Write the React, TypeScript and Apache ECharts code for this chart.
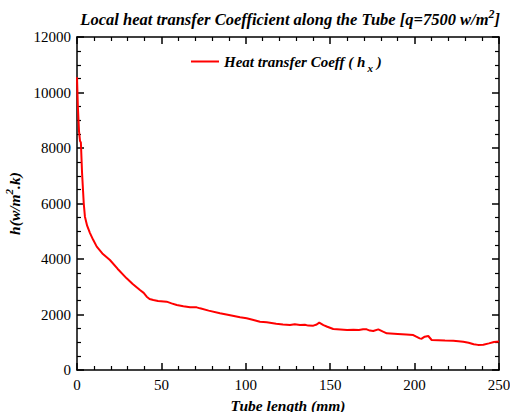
import React, { useEffect, useRef } from "react";
import * as echarts from "echarts";

const tubeLength = [0, 0.5, 1.2, 1.8, 2.3, 3, 4, 4.7, 6, 7.7, 9.5, 11.7, 15, 19.5, 24, 29.4, 33, 37.3, 39.5, 41.3, 43, 45.2, 48, 53.1, 56, 59.1, 63, 67, 70.9, 72.9, 78, 84.7, 90, 96.6, 100.5, 104, 108.4, 112.4, 118, 122, 126.2, 129, 132.1, 135, 137, 140, 142, 143.5, 146, 148.3, 151.8, 156, 160, 163.7, 167, 169.5, 171.6, 173.5, 175.5, 178.5, 181, 183.5, 190, 195, 199.2, 201, 203, 204.2, 206, 208.1, 210.1, 214, 218, 222.9, 226, 228.8, 232, 235, 237.5, 240.7, 244, 247, 250];
const heatCoeff = [10550, 9500, 8600, 8250, 8200, 7100, 6000, 5525, 5200, 4935, 4700, 4445, 4200, 3964, 3650, 3303, 3100, 2883, 2780, 2642, 2560, 2523, 2490, 2462, 2400, 2342, 2300, 2260, 2258, 2222, 2140, 2042, 1980, 1898, 1862, 1810, 1742, 1718, 1670, 1640, 1622, 1645, 1620, 1630, 1600, 1598, 1640, 1706, 1620, 1560, 1477, 1460, 1441, 1450, 1440, 1470, 1465, 1420, 1405, 1465, 1390, 1321, 1300, 1280, 1261, 1200, 1140, 1128, 1200, 1225, 1081, 1075, 1065, 1056, 1040, 1020, 980, 930, 905, 912, 960, 1010, 1030];

const xTicks = [0, 50, 100, 150, 200, 250];
const yTicks = [0, 2000, 4000, 6000, 8000, 10000, 12000];

export default function App() {
  const ref = useRef<HTMLDivElement>(null);
  useEffect(() => {
    if (!ref.current) return;
    const chart = echarts.init(ref.current, null, { renderer: "svg" });
    const font = "Liberation Serif";
    const xMin = xTicks[0];
    const xMax = xTicks[xTicks.length - 1];
    const yMin = yTicks[0];
    const yMax = yTicks[yTicks.length - 1];
    const mkLine = () => ({ show: true, onZero: false, lineStyle: { color: "#000", width: 1.5 } });
    const mkTick = () => ({ show: true, inside: true, length: 7, lineStyle: { color: "#000", width: 1.5 } });
    const mkMinor = (n: number) => ({ show: true, splitNumber: n, length: 4, lineStyle: { color: "#000", width: 1.2 } });
    const data = tubeLength.map((x, i) => [x, heatCoeff[i]]);

    const xBase = () => ({
      type: "value",
      min: xMin,
      max: xMax,
      interval: 50,
      axisLine: mkLine(),
      axisTick: mkTick(),
      minorTick: mkMinor(5),
      splitLine: { show: false },
      minorSplitLine: { show: false },
    });
    const yBase = () => ({
      type: "value",
      min: yMin,
      max: yMax,
      interval: 2000,
      axisLine: mkLine(),
      axisTick: mkTick(),
      minorTick: mkMinor(4),
      splitLine: { show: false },
      minorSplitLine: { show: false },
    });
    chart.setOption({
      animation: false,
      backgroundColor: "#fff",
      title: {
        text: "{t|Local heat transfer Coefficient along the Tube [q=7500 w/m}{s|2}{t|]}",
        right: 5,
        top: 3,
        textStyle: {
          rich: {
            t: { fontFamily: font, fontSize: 16.5, fontWeight: "bold", fontStyle: "italic", color: "#000", verticalAlign: "bottom" },
            s: { fontFamily: font, fontSize: 12, fontWeight: "bold", fontStyle: "italic", color: "#000", verticalAlign: "top", padding: [0, 0, 8, 0] },
          },
        },
      },
      legend: {
        left: 186,
        top: 49,
        itemWidth: 28,
        itemHeight: 2,
        itemGap: 3,
        icon: "rect",
        formatter: () => "{a|Heat transfer Coeff ( h}{b|x}{a| )}",
        textStyle: {
          rich: {
            a: { fontFamily: font, fontSize: 15, fontWeight: "bold", fontStyle: "italic", color: "#000" },
            b: { fontFamily: font, fontSize: 11, fontWeight: "bold", fontStyle: "italic", color: "#000", padding: [12, 0, 0, 2] },
          },
        },
        data: ["Heat transfer Coeff"],
      },
      grid: { show: false, left: 77, right: 11, top: 37, bottom: 42, containLabel: false, outerBoundsMode: "none" },
      xAxis: [
        {
          ...xBase(),
          position: "bottom",
          axisLabel: { fontFamily: font, fontSize: 15, color: "#000", margin: 7, formatter: (v: number) => String(v) },
          name: "Tube length (mm)",
          nameLocation: "middle",
          nameGap: 27,
          nameTextStyle: { fontFamily: font, fontSize: 15.5, fontWeight: "bold", fontStyle: "italic", color: "#000" },
        },
        {
          ...xBase(),
          position: "top",
          axisLabel: { show: false },
        },
      ],
      yAxis: [
        {
          ...yBase(),
          position: "left",
          axisLabel: { fontFamily: font, fontSize: 15, color: "#000", margin: 6, formatter: (v: number) => String(v) },
          name: "{a|h(w/m}{s|2}{a|.k)}",
          nameLocation: "middle",
          nameGap: 50,
          nameRotate: 90,
          nameTextStyle: {
            rich: {
              a: { fontFamily: font, fontSize: 15.5, fontWeight: "bold", fontStyle: "italic", color: "#000", verticalAlign: "bottom" },
              s: { fontFamily: font, fontSize: 11, fontWeight: "bold", fontStyle: "italic", color: "#000", verticalAlign: "top", padding: [0, 0, 8, 0] },
            },
          },
        },
        {
          ...yBase(),
          position: "right",
          axisLabel: { show: false },
        },
      ],
      series: [
        {
          name: "Heat transfer Coeff",
          type: "line",
          xAxisIndex: 0,
          yAxisIndex: 0,
          data,
          symbol: "none",
          lineStyle: { color: "#ff0000", width: 2 },
          itemStyle: { color: "#ff0000" },
          z: 3,
        },
        {
          type: "line",
          xAxisIndex: 1,
          yAxisIndex: 1,
          data: [],
          silent: true,
        },
      ],
    });
    return () => chart.dispose();
  }, []);
  return <div ref={ref} style={{ position: "absolute", left: 0, top: 0, width: 510, height: 412 }} />;
}
